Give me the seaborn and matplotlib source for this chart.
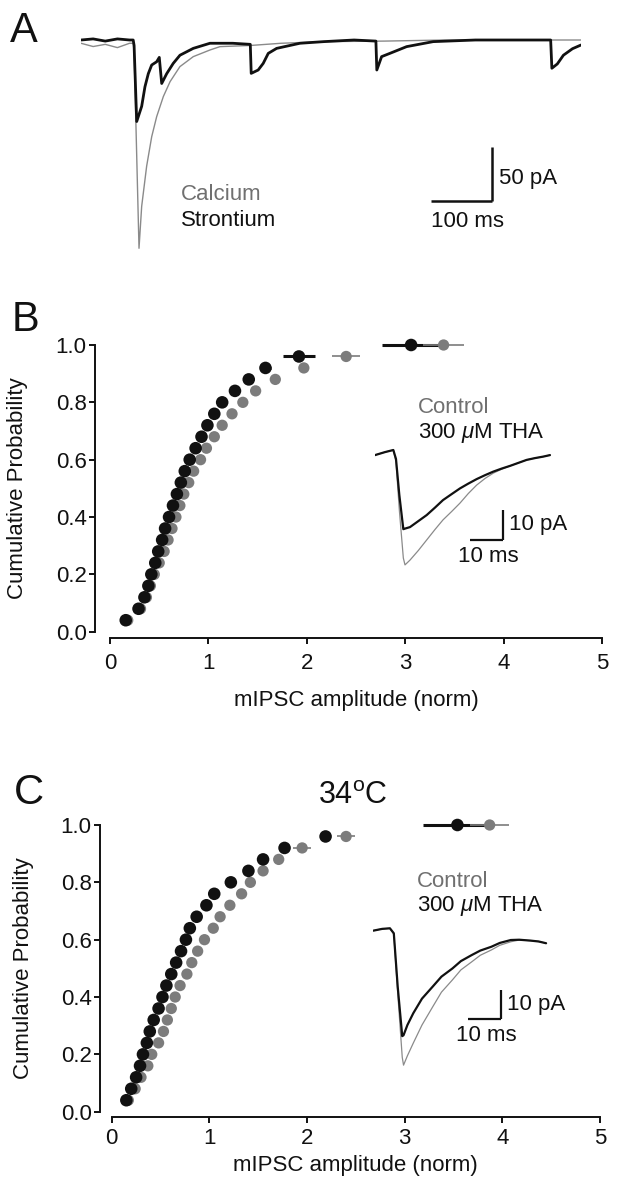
import matplotlib
matplotlib.use("Agg")
import matplotlib.pyplot as plt
import seaborn as sns

# ---------------- data ----------------
# panel A: example traces (time in ms, current in pA)
sr_t = [0, 20, 40, 60, 80, 86, 87.5, 91.8, 100, 105.4, 110.9, 116.5, 124.7, 129, 133,
        141.2, 152, 163.1, 185, 212.5, 250, 279, 280.5, 292, 300.3, 308.6, 322.4, 360.8,
        400, 450, 486, 487.5, 495.4, 509, 536.6, 580.4, 650, 720, 774, 776, 785, 795,
        810, 824]
sr_i = [0, 1, -1, 1, 0, 0, -5, -75, -61, -43, -31, -23, -20, -16, -40,
        -31, -21.5, -14, -7.7, -3, -3, -4, -30.7, -27.6, -21.5, -12.3, -7.7, -3,
        -1.5, 0, -1, -27.6, -15.3, -12.3, -6.1, -1.5, 0, 0, 0, -26, -22, -14,
        -8, -4.6]
ca_t = [0, 20, 40, 60, 80, 86, 87.5, 95.6, 100, 108.2, 116.5, 124.7, 135.7, 146.8,
        163, 185, 212.5, 229, 280, 330, 400, 500, 600, 700, 824]
ca_i = [-3, -6, -4, -7, -3, -3, -10, -191.6, -153, -116, -89, -70.5, -52, -38.3,
        -24.5, -15.3, -9.2, -6.1, -5, -3, -1.5, -1, 0, 0, 0]

# panels B and C: cumulative probability levels
cum_prob = [0.04, 0.08, 0.12, 0.16, 0.20, 0.24, 0.28, 0.32, 0.36, 0.40, 0.44, 0.48, 0.52,
            0.56, 0.60, 0.64, 0.68, 0.72, 0.76, 0.80, 0.84, 0.88, 0.92, 0.96, 1.00]

# panel B (room temperature)
b_tha_amp = [0.16, 0.29, 0.35, 0.39, 0.42, 0.46, 0.49, 0.53, 0.56, 0.60, 0.64, 0.68, 0.72,
             0.76, 0.81, 0.87, 0.93, 0.99, 1.06, 1.14, 1.27, 1.41, 1.58, 1.92, 3.06]
b_tha_err = [0, 0, 0, 0, 0, 0, 0, 0, 0, 0, 0, 0, 0,
             0, 0, 0, 0, 0, 0, 0, 0, 0, 0.06, 0.16, 0.30]
b_ctrl_amp = [0.18, 0.31, 0.37, 0.41, 0.45, 0.50, 0.55, 0.59, 0.63, 0.67, 0.71, 0.75, 0.80,
              0.85, 0.92, 0.98, 1.06, 1.14, 1.24, 1.35, 1.48, 1.68, 1.97, 2.40, 3.39]
b_ctrl_err = [0, 0, 0, 0, 0, 0, 0, 0, 0, 0, 0, 0, 0,
              0, 0, 0, 0, 0, 0, 0, 0, 0, 0.04, 0.14, 0.21]

# panel C (34 C)
c_tha_amp = [0.15, 0.20, 0.25, 0.29, 0.32, 0.36, 0.39, 0.43, 0.48, 0.52, 0.56, 0.61, 0.66,
             0.71, 0.76, 0.80, 0.87, 0.97, 1.05, 1.22, 1.40, 1.55, 1.77, 2.19, 3.54]
c_tha_err = [0, 0, 0, 0, 0, 0, 0, 0, 0, 0, 0, 0, 0,
             0, 0, 0, 0, 0, 0.03, 0, 0.05, 0.05, 0.05, 0.03, 0.35]
c_ctrl_amp = [0.17, 0.24, 0.30, 0.37, 0.41, 0.48, 0.53, 0.57, 0.61, 0.65, 0.70, 0.77, 0.82,
              0.88, 0.95, 1.04, 1.11, 1.21, 1.33, 1.42, 1.55, 1.71, 1.95, 2.40, 3.87]
c_ctrl_err = [0, 0, 0, 0, 0, 0, 0, 0, 0, 0, 0, 0, 0,
              0, 0, 0, 0, 0, 0, 0, 0.05, 0.05, 0.09, 0.09, 0.20]

# inset traces (ms, pA)
b_ins_t = [0, 3, 5.5, 6.3, 7.3, 8.5, 9.0, 10.5, 13, 15.5, 18, 20.4, 23, 25.5, 28, 30.5,
           33, 35.5, 38, 40.5, 43, 45.5, 48, 50.5, 52.5]
b_ins_tha = [-1.7, -0.7, 0, -3, -15, -26.4, -26.2, -25.7, -23.7, -21.7, -19.2, -16.7,
             -14.7, -12.8, -11.2, -9.7, -8.4, -7.2, -6.2, -5.3, -4.3, -3.3, -2.7, -2.2, -1.7]
b_ins_ctrl = [-1.7, -0.7, 0, -4, -20, -36, -38.3, -36.7, -33.5, -30, -26.5, -23.3,
              -20.5, -17.7, -14.5, -11.7, -9.5, -7.7, -6.4, -5.3, -4.3, -3.3, -2.7, -2.2, -1.7]
c_ins_t = [0, 2.7, 5.1, 6.3, 7.5, 8.9, 9.3, 10.5, 12.3, 15, 18.3, 21, 24.4, 27, 30.4, 33,
           36.4, 39, 42.4, 45, 48.5, 51, 53.3]
c_ins_tha = [-0.8, -0.2, 0, -1.7, -19.9, -36.8, -36.5, -33, -29, -24, -19.9, -16.5,
             -13.7, -11.2, -9.1, -7.6, -6.3, -5, -4.0, -3.9, -4.2, -4.5, -5.1]
c_ins_ctrl = [-0.8, -0.2, 0, -2, -22, -44, -46.7, -43.5, -39.2, -33, -26.8, -21.8,
              -17.6, -14.2, -11.4, -9.2, -7.4, -5.8, -4.6, -4.0, -4.2, -4.5, -5.1]

BLACK = "#111111"
GREY = "#7c7c7c"
GREY_TXT = "#707070"

sns.set_theme(style="ticks")
plt.rcParams["font.family"] = ["Liberation Sans", "DejaVu Sans"]
plt.rcParams["mathtext.fontset"] = "custom"
plt.rcParams["mathtext.rm"] = "Liberation Sans"
plt.rcParams["mathtext.it"] = "Liberation Sans:italic"

W, H = 623, 1199
fig = plt.figure(figsize=(W / 100, H / 100), dpi=100)
fig.patch.set_facecolor("white")


def px_axes(left, top, right, bottom):
    """Add axes from pixel box (top-left origin)."""
    return fig.add_axes([left / W, 1 - bottom / H, (right - left) / W, (bottom - top) / H])


# ---------------- panel A ----------------
ax_a = px_axes(81, 23.7, 581, 257.4)
sns.lineplot(x=ca_t, y=ca_i, ax=ax_a, color="#8a8a8a", lw=1.0, sort=False)
sns.lineplot(x=sr_t, y=sr_i, ax=ax_a, color=BLACK, lw=2.0, sort=False)
ax_a.set_xlim(0, 824)
ax_a.set_ylim(-200, 15)
ax_a.axis("off")
ax_a.plot([577, 677], [-148, -148], color=BLACK, lw=1.8, solid_capstyle="butt")
ax_a.plot([677, 677], [-148, -98], color=BLACK, lw=1.8, solid_capstyle="butt")
ax_a.text(689, -127, "50 pA", fontsize=16, va="center", ha="left", color=BLACK)
ax_a.text(576, -167, "100 ms", fontsize=16, va="center", ha="left", color=BLACK)
ax_a.text(164, -142, "Calcium", fontsize=16, va="center", ha="left", color=GREY_TXT)
ax_a.text(164, -165.6, "Strontium", fontsize=16, va="center", ha="left", color=BLACK)


# ---------------- panels B / C ----------------
def cum_panel(ax, tha_amp, tha_err, ctrl_amp, ctrl_err, off_left, off_bottom, tick_pad, xlab_y, ylab_x):
    ax.errorbar(tha_amp, cum_prob, xerr=tha_err, fmt="none", ecolor=BLACK, elinewidth=2.2,
                capsize=0, zorder=2, clip_on=False)
    ax.errorbar(ctrl_amp, cum_prob, xerr=ctrl_err, fmt="none", ecolor=GREY, elinewidth=1.2,
                capsize=0, zorder=2, clip_on=False)
    sns.scatterplot(x=ctrl_amp, y=cum_prob, ax=ax, color=GREY, s=66, edgecolor="none",
                    linewidth=0, zorder=3, clip_on=False)
    sns.scatterplot(x=tha_amp, y=cum_prob, ax=ax, color=BLACK, s=82, edgecolor="none",
                    linewidth=0, zorder=4, clip_on=False)
    ax.set_xlim(0, 5)
    ax.set_ylim(0, 1)
    ax.set_xticks([0, 1, 2, 3, 4, 5])
    ax.set_yticks([0, 0.2, 0.4, 0.6, 0.8, 1.0])
    ax.set_yticklabels(["0.0", "0.2", "0.4", "0.6", "0.8", "1.0"])
    sns.despine(ax=ax, offset={"left": off_left, "bottom": off_bottom})
    for s in ("left", "bottom"):
        ax.spines[s].set_linewidth(1.4)
        ax.spines[s].set_color(BLACK)
    ax.tick_params(axis="both", direction="out", length=4, width=1.4, color=BLACK,
                   labelsize=16, labelcolor=BLACK)
    ax.tick_params(axis="x", pad=tick_pad)
    ax.tick_params(axis="y", pad=2)
    ax.set_xlabel("mIPSC amplitude (norm)", fontsize=16, color=BLACK)
    ax.set_ylabel("Cumulative Probability", fontsize=16, color=BLACK)
    ax.xaxis.set_label_coords(0.5, xlab_y)
    ax.yaxis.set_label_coords(ylab_x, 0.5)
    ax.set_facecolor("none")


ax_b = px_axes(110, 345, 602, 631.7)
cum_panel(ax_b, b_tha_amp, b_tha_err, b_ctrl_amp, b_ctrl_err, 10.8, 4.5, 7, -0.205, -0.166)

ax_c = px_axes(111.7, 825, 600, 1111.7)
cum_panel(ax_c, c_tha_amp, c_tha_err, c_ctrl_amp, c_ctrl_err, 8.4, 3.6, 4, -0.152, -0.160)
ax_c.text(2.47, 1.10, "34$^{\\mathrm{o}}$C", fontsize=22, ha="center", va="center",
          color=BLACK, clip_on=False)


# ---------------- insets ----------------
def inset(ax, t, tha, ctrl, ylim, bar_t, bar_i, ctrl_lbl_y, tha_lbl_y, lbl_t):
    sns.lineplot(x=t, y=ctrl, ax=ax, color="#8a8a8a", lw=0.9, sort=False)
    sns.lineplot(x=t, y=tha, ax=ax, color=BLACK, lw=1.6, sort=False)
    ax.set_xlim(0, 55)
    ax.set_ylim(*ylim)
    ax.axis("off")
    ax.plot([bar_t - 10, bar_t], [bar_i - 10, bar_i - 10], color=BLACK, lw=1.6,
            solid_capstyle="butt")
    ax.plot([bar_t, bar_t], [bar_i - 10, bar_i], color=BLACK, lw=1.6, solid_capstyle="butt")
    ax.text(bar_t + 1.8, bar_i - 5, "10 pA", fontsize=16, ha="left", va="center", color=BLACK)
    ax.text(bar_t - 4.5, bar_i - 15.5, "10 ms", fontsize=16, ha="center", va="center",
            color=BLACK)
    ax.text(lbl_t, ctrl_lbl_y, "Control", fontsize=16, ha="left", va="center", color=GREY_TXT)
    ax.text(lbl_t, tha_lbl_y, "300 $\\mu$M THA", fontsize=16, ha="left", va="center",
            color=BLACK)


ax_bi = px_axes(375, 390, 558.3, 585)
inset(ax_bi, b_ins_t, b_ins_tha, b_ins_ctrl, (-45, 20), 38.5, -20, 14.3, 5.7, 13)

ax_ci = px_axes(373.4, 869.7, 551.6, 1074.8)
inset(ax_ci, c_ins_t, c_ins_tha, c_ins_ctrl, (-50, 20), 39.3, -21, 16.1, 7.5, 13.5)

# panel letters
fig.text(10 / W, 1 - 42 / H, "A", fontsize=30, va="baseline", ha="left", color=BLACK)
fig.text(12 / W, 1 - 331 / H, "B", fontsize=30, va="baseline", ha="left", color=BLACK)
fig.text(14 / W, 1 - 804 / H, "C", fontsize=30, va="baseline", ha="left", color=BLACK)

fig.savefig("out.png", dpi=100, facecolor="white")
